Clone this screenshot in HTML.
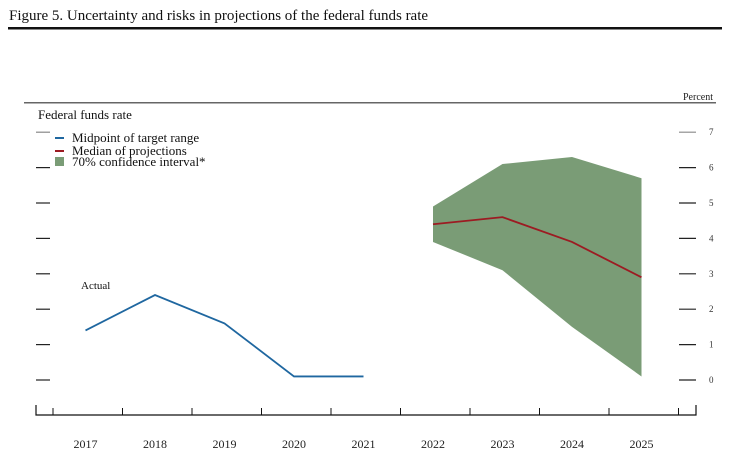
<!DOCTYPE html>
<html><head><meta charset="utf-8"><style>
body{margin:0;background:#fff;width:743px;height:464px;overflow:hidden}
svg{display:block;font-family:"Liberation Serif",serif}
</style></head><body>
<svg width="743" height="464" id="chart">
<text x="9" y="20" font-size="15" fill="#111">Figure 5. Uncertainty and risks in projections of the federal funds rate</text>
<rect x="8" y="27" width="714" height="2.5" fill="#111"/>
<text x="713" y="100" font-size="10" text-anchor="end" fill="#222">Percent</text>
<rect x="24" y="102" width="692" height="1.5" fill="#666"/>
<text x="38" y="119" font-size="13" fill="#111">Federal funds rate</text>
<g id="legend">
<g><rect x="55" y="137" width="9" height="2" fill="#1f67a0"/><text x="72" y="142" font-size="13" fill="#111">Midpoint of target range</text></g>
<g><rect x="55" y="150" width="9" height="2" fill="#9c1b22"/><text x="72" y="155" font-size="13" fill="#111">Median of projections</text></g>
<g><rect x="55" y="157" width="9" height="9" fill="#7a9c76"/><text x="72" y="166" font-size="13" fill="#111">70% confidence interval*</text></g>
</g>
<g id="yaxis"></g><g id="xaxis"></g><g id="marks"></g>
<text x="81" y="289" font-size="11" fill="#111">Actual</text>
</svg>
<script>
const years=["2017","2018","2019","2020","2021","2022","2023","2024","2025"];
const yTicks=[0,1,2,3,4,5,6,7];
const actualYears=["2017","2018","2019","2020","2021"];
const actualValues=[1.4,2.4,1.6,0.1,0.1];
const projYears=["2022","2023","2024","2025"];
const medianValues=[4.4,4.6,3.9,2.9];
const upperValues=[4.9,6.1,6.3,5.7];
const lowerValues=[3.9,3.1,1.5,0.1];
const NS="http://www.w3.org/2000/svg";
const x=y=>85.5+69.5*years.indexOf(y);
const yv=v=>380-35.4*v;
function mk(t,a,p){const e=document.createElementNS(NS,t);for(const k in a)e.setAttribute(k,a[k]);p.appendChild(e);return e;}
const ya=document.getElementById('yaxis'),xa=document.getElementById('xaxis'),m=document.getElementById('marks');
yTicks.forEach(v=>{
 const c=v==7?"#888":"#222";
 const l=mk('line',{x1:36,x2:50,y1:yv(v),y2:yv(v),stroke:c,'stroke-width':1.2},ya);
 
 
 const r=mk('line',{x1:679,x2:696,y1:yv(v),y2:yv(v),stroke:c,'stroke-width':1.2},ya);
 
 
 const t=mk('text',{x:709,y:yv(v)+3,'font-size':9,fill:'#333'},ya);t.textContent=v;
 
 
});
const base=mk('path',{d:'M36,405V415H696V405',fill:'none',stroke:'#111','stroke-width':1.2},xa);


for(let i=0;i<years.length+1;i++){const xx=53+69.5*i;
 const tk=mk('line',{x1:xx,x2:xx,y1:408,y2:415,stroke:'#111','stroke-width':1},xa);
 
 }
years.forEach(y=>{const t=mk('text',{x:x(y),y:448,'font-size':12,'text-anchor':'middle',fill:'#222'},xa);t.textContent=y;
 
 });
let d='';projYears.forEach((y,i)=>d+=(i?'L':'M')+x(y)+','+yv(upperValues[i]));
for(let i=projYears.length-1;i>=0;i--)d+='L'+x(projYears[i])+','+yv(lowerValues[i]);
const band=mk('path',{d:d+'Z',fill:'#7a9c76'},m);


const a=mk('polyline',{points:actualYears.map((y,i)=>x(y)+','+yv(actualValues[i])).join(' '),fill:'none',stroke:'#1f67a0','stroke-width':1.8},m);


const md=mk('polyline',{points:projYears.map((y,i)=>x(y)+','+yv(medianValues[i])).join(' '),fill:'none',stroke:'#9c1b22','stroke-width':1.8},m);


</script>
</body></html>
